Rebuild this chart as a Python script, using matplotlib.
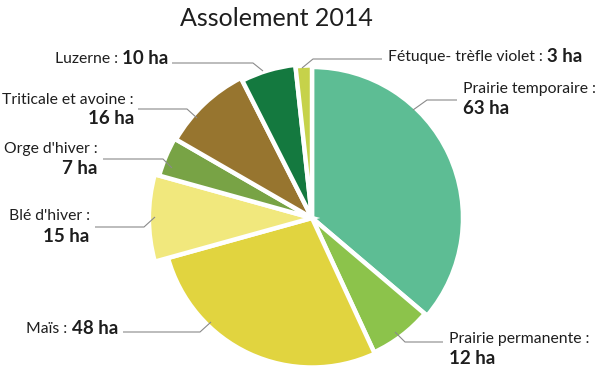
import matplotlib
matplotlib.use("Agg")
import matplotlib.pyplot as plt

# ---- data ----
categories = ["Prairie temporaire", "Prairie permanente", "Maïs", "Blé d'hiver",
              "Orge d'hiver", "Triticale et avoine", "Luzerne", "Fétuque- trèfle violet"]
hectares = [63, 12, 48, 15, 7, 16, 10, 3]
title = "Assolement 2014"

# ---- style ----
colors = ["#5dbd94", "#8cc34b", "#e1d43f", "#f1e87d", "#78a345", "#97752f", "#14793f", "#c6d24a"]
explode = [0, 0, 0, 0.03, 0.03, 0.025, 0.02, 0.015]
radius_scale = [1.0, 0.98, 0.99, 1.08, 1.05, 1.04, 1.02, 1.01]
W, H = 600, 383
center = (312, 218)
radius = 151
TXT = "#1e1e1e"
LINE = "#8a8a8a"
plt.rcParams['font.family'] = ['Lato', 'DejaVu Sans']

fig = plt.figure(figsize=(W / 100, H / 100), dpi=100)
ax = fig.add_axes([0, 0, 1, 1])

# y axis inverted -> startangle -90 & counterclock=True gives visual clockwise from top
wedges, _ = ax.pie(hectares, colors=colors, explode=explode, startangle=-90, counterclock=True,
                   center=center, radius=radius,
                   wedgeprops=dict(edgecolor="white", linewidth=3.2), frame=True)
for w, s in zip(wedges, radius_scale):
    w.set_radius(radius * s)
ax.set_xlim(0, W)
ax.set_ylim(H, 0)
ax.set_aspect('auto')
ax.axis('off')

ax.text(276, 18, title, ha='center', va='center', fontsize=18, fontweight='normal', color=TXT)

fs_n, fs_b = 11.3, 13.5

def label(i, layout):
    name = categories[i] + " :"
    val = f"{hectares[i]} ha"
    kind = layout["kind"]
    x, y = layout["xy"]
    if kind == "inline_right":
        b = ax.text(x, y, val, ha='right', va='center', fontsize=fs_b, fontweight='bold', color=TXT)
        ax.annotate(name + " ", xy=(0, 0.5), xycoords=b, ha='right', va='center',
                    fontsize=fs_n, fontweight='normal', color=TXT)
    elif kind == "inline_left":
        n = ax.text(x, y, name + " ", ha='left', va='center', fontsize=fs_n, fontweight='normal', color=TXT)
        ax.annotate(val, xy=(1, 0.5), xycoords=n, ha='left', va='center',
                    fontsize=fs_b, fontweight='bold', color=TXT)
    else:
        ha = 'left' if kind == "two_left" else 'right'
        y2 = layout["y2"]
        ax.text(x, y, name, ha=ha, va='center', fontsize=fs_n, fontweight='normal', color=TXT)
        ax.text(layout.get("x2", x), y2, val, ha=ha, va='center', fontsize=fs_b, fontweight='bold', color=TXT)
    xs, ys = zip(*layout["line"])
    ax.plot(xs, ys, color=LINE, lw=0.8, solid_capstyle='butt')

layouts = [
    dict(kind="two_left", xy=(463, 89), y2=109, line=[(457, 100), (427, 100), (413, 110)]),
    dict(kind="two_left", xy=(449, 339), y2=358, line=[(443, 342), (405, 342), (395, 332)]),
    dict(kind="inline_right", xy=(118, 329), line=[(123, 332), (200, 332), (211, 322)]),
    dict(kind="two_right", xy=(90, 216), x2=89, y2=236, line=[(95, 227), (144, 227), (155, 217)]),
    dict(kind="two_right", xy=(98, 149), x2=97, y2=168, line=[(103, 159), (163, 159), (172, 168)]),
    dict(kind="two_right", xy=(134, 100), y2=118, line=[(138, 109), (187, 109), (197, 118)]),
    dict(kind="inline_right", xy=(168, 59), line=[(172, 63), (253, 63), (263, 71)]),
    dict(kind="inline_left", xy=(388, 57), line=[(382, 59), (313, 59), (302, 68)]),
]
for i, lay in enumerate(layouts):
    label(i, lay)

fig.savefig("out.png", dpi=100, facecolor="white")
